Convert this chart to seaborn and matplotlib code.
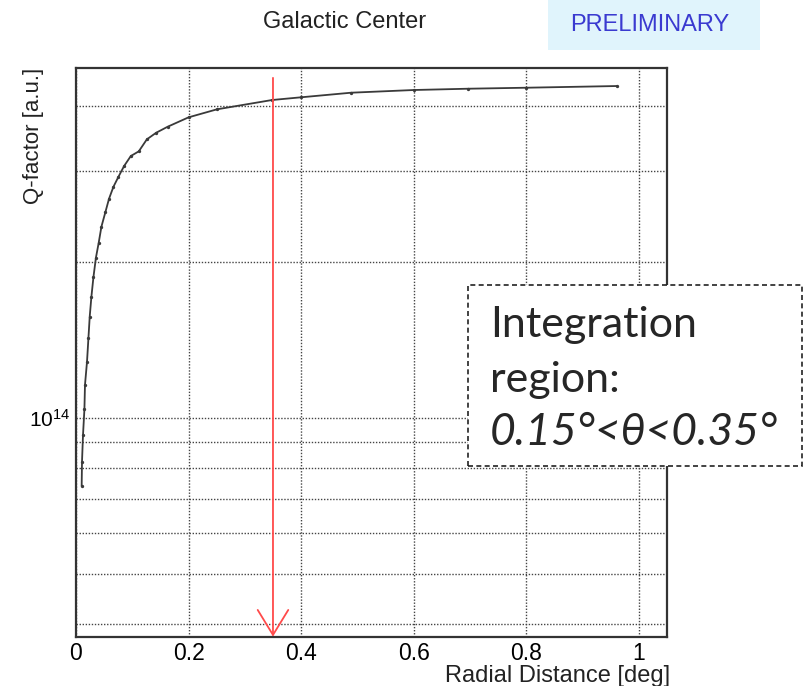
import numpy as np
import pandas as pd
import matplotlib
matplotlib.use("Agg")
import matplotlib.pyplot as plt
import seaborn as sns
from matplotlib.patches import Rectangle
from matplotlib.ticker import LogLocator, NullFormatter, FixedLocator


# DATA
radial_deg = [
    0.0101, 0.0107, 0.0125, 0.0150, 0.0160, 0.0196, 0.0221, 0.0244,
    0.0274, 0.0310, 0.0354, 0.0404, 0.0452, 0.0523, 0.0587, 0.0666,
    0.0755, 0.0855, 0.0974, 0.1116, 0.1259, 0.1424, 0.1627, 0.2001,
    0.2505, 0.3484, 0.4000, 0.4890, 0.6000, 0.6968, 0.7988, 0.9608
]
q_factor_e14 = [
    0.740, 0.824, 0.929, 1.041, 1.160, 1.286, 1.427, 1.571,
    1.717, 1.872, 2.041, 2.183, 2.344, 2.502, 2.654, 2.800,
    2.927, 3.070, 3.209, 3.277, 3.456, 3.559, 3.655, 3.812,
    3.950, 4.117, 4.167, 4.253, 4.304, 4.329, 4.348, 4.381
]
x_ticks = [0, 0.2, 0.4, 0.6, 0.8, 1.0]
x_tick_labels = ["0", "0.2", "0.4", "0.6", "0.8", "1"]
theta_max = 0.35

df = pd.DataFrame({
    "radial": radial_deg,
    "q": np.array(q_factor_e14) * 1e14
})

# STYLE
sns.set_style("white")
plt.rcParams["font.family"] = ["Liberation Sans", "DejaVu Sans"]
plt.rcParams["mathtext.fontset"] = "custom"
plt.rcParams["mathtext.rm"] = "Liberation Sans"
plt.rcParams["mathtext.it"] = "Liberation Sans:italic"

FRAME = "#333333"
GRID = "#444444"

fig = plt.figure(figsize=(8.04, 6.86), dpi=100)
ax = fig.add_axes([0.0945, 0.0719, 0.7351, 0.8290])

sns.lineplot(
    data=df,
    x="radial",
    y="q",
    color="#3a3a3a",
    linewidth=1.3,
    marker="o",
    markersize=2.4,
    markeredgewidth=0,
    ax=ax,
    zorder=3
)

ax.set_yscale("log")
ax.set_xlim(0, 1.05)
ax.set_ylim(3.787e13, 4.747e14)

# ticks
ax.set_xticks(x_ticks)
ax.set_xticklabels(x_tick_labels)
ax.xaxis.set_minor_locator(FixedLocator(np.arange(0.05, 1.05, 0.05)))
ax.yaxis.set_major_locator(LogLocator(base=10))
ax.yaxis.set_minor_locator(LogLocator(base=10, subs=np.arange(2, 10)))
ax.yaxis.set_minor_formatter(NullFormatter())

ax.tick_params(axis="both", which="both", direction="in", colors=FRAME,
               labelcolor="black")
ax.tick_params(axis="x", which="major", length=9, width=1.3, pad=4, labelsize=16.5)
ax.tick_params(axis="x", which="minor", length=5, width=1.0)
ax.tick_params(axis="y", which="major", length=14, width=1.3, pad=4, labelsize=15)
ax.tick_params(axis="y", which="minor", length=5, width=1.0)

# grid
ax.grid(True, which="major", axis="x", color=GRID, linestyle=(0, (1, 1.2)), linewidth=1.0)
ax.grid(True, which="both", axis="y", color=GRID, linestyle=(0, (1, 1.2)), linewidth=1.0)

for spine in ax.spines.values():
    spine.set_color(FRAME)
    spine.set_linewidth(1.6)

ax.set_xlabel("")
ax.set_ylabel("")

# integration boundary arrow
y_lo, y_hi = ax.get_ylim()
ax.annotate(
    "",
    xy=(theta_max, y_lo),
    xytext=(theta_max, y_hi * 0.957),
    arrowprops=dict(
        arrowstyle="->,head_length=1.8,head_width=1.1",
        color="#ff4a4a",
        lw=1.3,
        shrinkA=0,
        shrinkB=0,
        mutation_scale=10
    ),
    zorder=4
)

# titles
fig.text(345 / 804, 1 - 22 / 686, "Galactic Center", ha="center", va="center",
         fontsize=17, color="#222222")
fig.text(34 / 804, 1 - 68 / 686, "Q-factor [a.u.]", rotation=90, ha="center",
         va="top", fontsize=16, color="#222222")
fig.text(670 / 804, 1 - 682 / 686, "Radial Distance [deg]", ha="right",
         va="baseline", fontsize=17, color="#222222")

# PRELIMINARY tag
fig.add_artist(Rectangle((548 / 804, 1 - 50 / 686), 212 / 804, 50 / 686,
                         transform=fig.transFigure, facecolor="#e0f4fc",
                         edgecolor="none"))
fig.text(650 / 804, 1 - 25 / 686, "PRELIMINARY", ha="center", va="center",
         fontsize=17, color="#3a3ad0")

# integration region box
fig.add_artist(Rectangle((468 / 804, 1 - 466 / 686), 334 / 804, 181 / 686,
                         transform=fig.transFigure, facecolor="white",
                         edgecolor="#222222", linestyle=(0, (3, 2)),
                         linewidth=1.2, zorder=5))
box_font = ["Lato", "Noto Sans", "DejaVu Sans"]
fig.text(490 / 804, 1 - 337 / 686, "Integration", ha="left", va="baseline",
         fontsize=31, family=box_font, zorder=6)
fig.text(490 / 804, 1 - 392 / 686, "region:", ha="left", va="baseline",
         fontsize=31, family=box_font, zorder=6)
fig.text(490 / 804, 1 - 445 / 686, "0.15°<θ<0.35°", ha="left", va="baseline",
         fontsize=32, style="italic", family=box_font, zorder=6)

plt.savefig("out.png", dpi=100)
